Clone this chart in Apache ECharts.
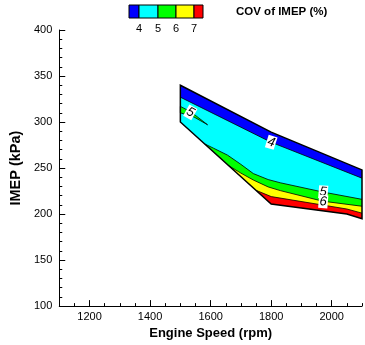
<!DOCTYPE html>
<html>
<head>
<meta charset="utf-8">
<script src="https://cdn.jsdelivr.net/npm/echarts@6/dist/echarts.min.js"></script>
<style>html,body{margin:0;padding:0;background:#fff}#c{width:365px;height:345px}</style>
</head>
<body>
<div id="c"></div>
<script>
// ---- data (Engine Speed rpm, IMEP kPa) ----
const xTickLabels = [1200, 1400, 1600, 1800, 2000];
const yTickLabels = [100, 150, 200, 250, 300, 350, 400];

const topEdgeSpeed = [1500, 1800, 2100];
const topEdgeImep = [340, 289, 248];
const bottomEdgeSpeed = [1500, 1800, 2050, 2100];
const bottomEdgeImep = [300, 211, 200, 195];

const cov4Speed = [1500, 1800, 2100];
const cov4Imep = [327, 278, 239];
const cov5Speed = [1580, 1610, 1656, 1700, 1741, 1790, 1830, 1970, 2100];
const cov5Imep = [276.3, 271.5, 264, 254, 244, 237.5, 234, 224, 216];
const cov6Speed = [1660, 1700, 1741, 1790, 1830, 1970, 2100];
const cov6Imep = [252.5, 244.5, 237, 229.5, 225.5, 214, 208.5];
const cov7Speed = [1750, 1800, 2050, 2100];
const cov7Imep = [225.8, 219, 205.5, 201];
const island5Speed = [1500, 1535, 1590, 1545, 1500];
const island5Imep = [317, 311, 297, 305.5, 310];

const contourLabelText = ['5', '4', '5', '6'];
const contourLabelSpeed = [1533, 1800, 1972, 1972];
const contourLabelImep = [310.5, 278, 224, 213.5];

const legendLevels = ['4', '5', '6', '7'];
const legendColors = ['#0000ff', '#00ffff', '#00ff00', '#ffff00', '#ff0000'];
const legendTitle = 'COV of IMEP (%)';

// ---- styles ----
const FONT = '"Liberation Sans", Arial, sans-serif';
const labelRot = [-0.50, -0.30, -0.08, -0.08];

const chart = echarts.init(document.getElementById('c'), null, {renderer: 'canvas'});

function pts(api, s, v) { return s.map((x, i) => api.coord([x, v[i]])); }
function below(api, cs, ci) {
  const p = pts(api, cs, ci);
  const start = cs[0];
  for (let i = bottomEdgeSpeed.length - 1; i >= 0; i--) {
    if (bottomEdgeSpeed[i] > start && bottomEdgeSpeed[i] < cs[cs.length - 1] + 1) {
      if (bottomEdgeSpeed[i] === cs[cs.length - 1] && bottomEdgeImep[i] === ci[ci.length - 1]) continue;
      p.push(api.coord([bottomEdgeSpeed[i], bottomEdgeImep[i]]));
    }
  }
  return p;
}

function renderItem(params, api) {
  if (params.dataIndex !== 0) return null;
  const top = pts(api, topEdgeSpeed, topEdgeImep);
  const bot = pts(api, bottomEdgeSpeed, bottomEdgeImep);
  const outline = top.concat(bot.slice().reverse());
  const blue = top.concat(pts(api, cov4Speed, cov4Imep).reverse());
  const children = [];
  children.push({type: 'polygon', shape: {points: outline}, style: {fill: legendColors[1]}});
  children.push({type: 'polygon', shape: {points: blue}, style: {fill: legendColors[0]}});
  children.push({type: 'polygon', shape: {points: below(api, cov5Speed, cov5Imep)}, style: {fill: legendColors[2]}});
  children.push({type: 'polygon', shape: {points: below(api, cov6Speed, cov6Imep)}, style: {fill: legendColors[3]}});
  children.push({type: 'polygon', shape: {points: below(api, cov7Speed, cov7Imep)}, style: {fill: legendColors[4]}});
  children.push({type: 'polygon', shape: {points: pts(api, island5Speed, island5Imep)}, style: {fill: legendColors[2], stroke: '#000', lineWidth: 0.8}});
  [[cov4Speed, cov4Imep], [cov5Speed, cov5Imep], [cov6Speed, cov6Imep], [cov7Speed, cov7Imep]].forEach(c => {
    children.push({type: 'polyline', shape: {points: pts(api, c[0], c[1])}, style: {fill: null, stroke: '#000', lineWidth: 0.8}});
  });
  children.push({type: 'polygon', shape: {points: outline}, style: {fill: null, stroke: '#000', lineWidth: 1.5}});
  contourLabelText.forEach((t, i) => {
    const p = api.coord([contourLabelSpeed[i], contourLabelImep[i]]);
    children.push({type: 'text', x: p[0], y: p[1], rotation: labelRot[i],
      style: {text: t, fill: '#000', font: 'italic 13px ' + FONT, backgroundColor: '#fff',
        padding: [0, 1, 0, 1], align: 'center', verticalAlign: 'middle'}});
  });
  return {type: 'group', children: children};
}

// legend graphics
const lgX = 129, lgY = 5, lgH = 13;
const segW = [10, 19, 18, 18, 9];
const legendGraphics = [];
let cx = lgX;
legendColors.forEach((c, i) => {
  legendGraphics.push({type: 'rect', shape: {x: cx, y: lgY, width: segW[i], height: lgH},
    style: {fill: c, stroke: '#000', lineWidth: 1}});
  cx += segW[i];
  if (i < legendLevels.length) {
    legendGraphics.push({type: 'text', x: cx, y: 29,
      style: {text: legendLevels[i], font: '11px ' + FONT, fill: '#000', align: 'center', verticalAlign: 'middle'}});
  }
});
legendGraphics.push({type: 'text', x: 236, y: 12,
  style: {text: legendTitle, font: 'bold 11.5px ' + FONT, fill: '#000', align: 'left', verticalAlign: 'middle'}});

const axisCommon = {
  type: 'value', splitLine: {show: false},
  axisLine: {show: true, onZero: false, lineStyle: {color: '#000', width: 1}},
};

chart.setOption({
  animation: false,
  backgroundColor: '#fff',
  grid: {left: 58, right: 3, top: 30, bottom: 37},
  xAxis: [
    Object.assign({}, axisCommon, {
      min: 1100, max: 2100, interval: 50, position: 'bottom',
      axisTick: {inside: true, length: 3, lineStyle: {color: '#000'}},
      axisLabel: {customValues: xTickLabels, formatter: v => String(v), color: '#000', fontSize: 11, fontFamily: FONT, margin: 5},
      name: 'Engine Speed (rpm)', nameLocation: 'middle', nameGap: 19,
      nameTextStyle: {color: '#000', fontWeight: 'bold', fontSize: 13, fontFamily: FONT}
    }),
    Object.assign({}, axisCommon, {
      min: 1100, max: 2100, interval: 50, position: 'bottom',
      axisLine: {show: false},
      axisTick: {inside: true, length: 6, customValues: xTickLabels, lineStyle: {color: '#000'}},
      axisLabel: {show: false}
    })
  ],
  yAxis: [
    Object.assign({}, axisCommon, {
      min: 100, max: 400, interval: 50, position: 'left',
      axisTick: {inside: true, length: 6, lineStyle: {color: '#000'}},
      axisLabel: {customValues: yTickLabels, formatter: v => String(v), color: '#000', fontSize: 11, fontFamily: FONT, margin: 7},
      name: 'IMEP (kPa)', nameLocation: 'middle', nameGap: 25,
      nameTextStyle: {color: '#000', fontWeight: 'bold', fontSize: 14.5, fontFamily: FONT}
    }),
    Object.assign({}, axisCommon, {
      min: 100, max: 400, interval: 10, position: 'left',
      axisLine: {show: false},
      axisTick: {inside: true, length: 3, lineStyle: {color: '#000'}},
      axisLabel: {show: false}
    })
  ],
  graphic: legendGraphics,
  series: [{
    type: 'custom', xAxisIndex: 0, yAxisIndex: 0,
    renderItem: renderItem, data: [[1500, 300]], clip: false, silent: true
  }]
});
</script>
</body>
</html>
